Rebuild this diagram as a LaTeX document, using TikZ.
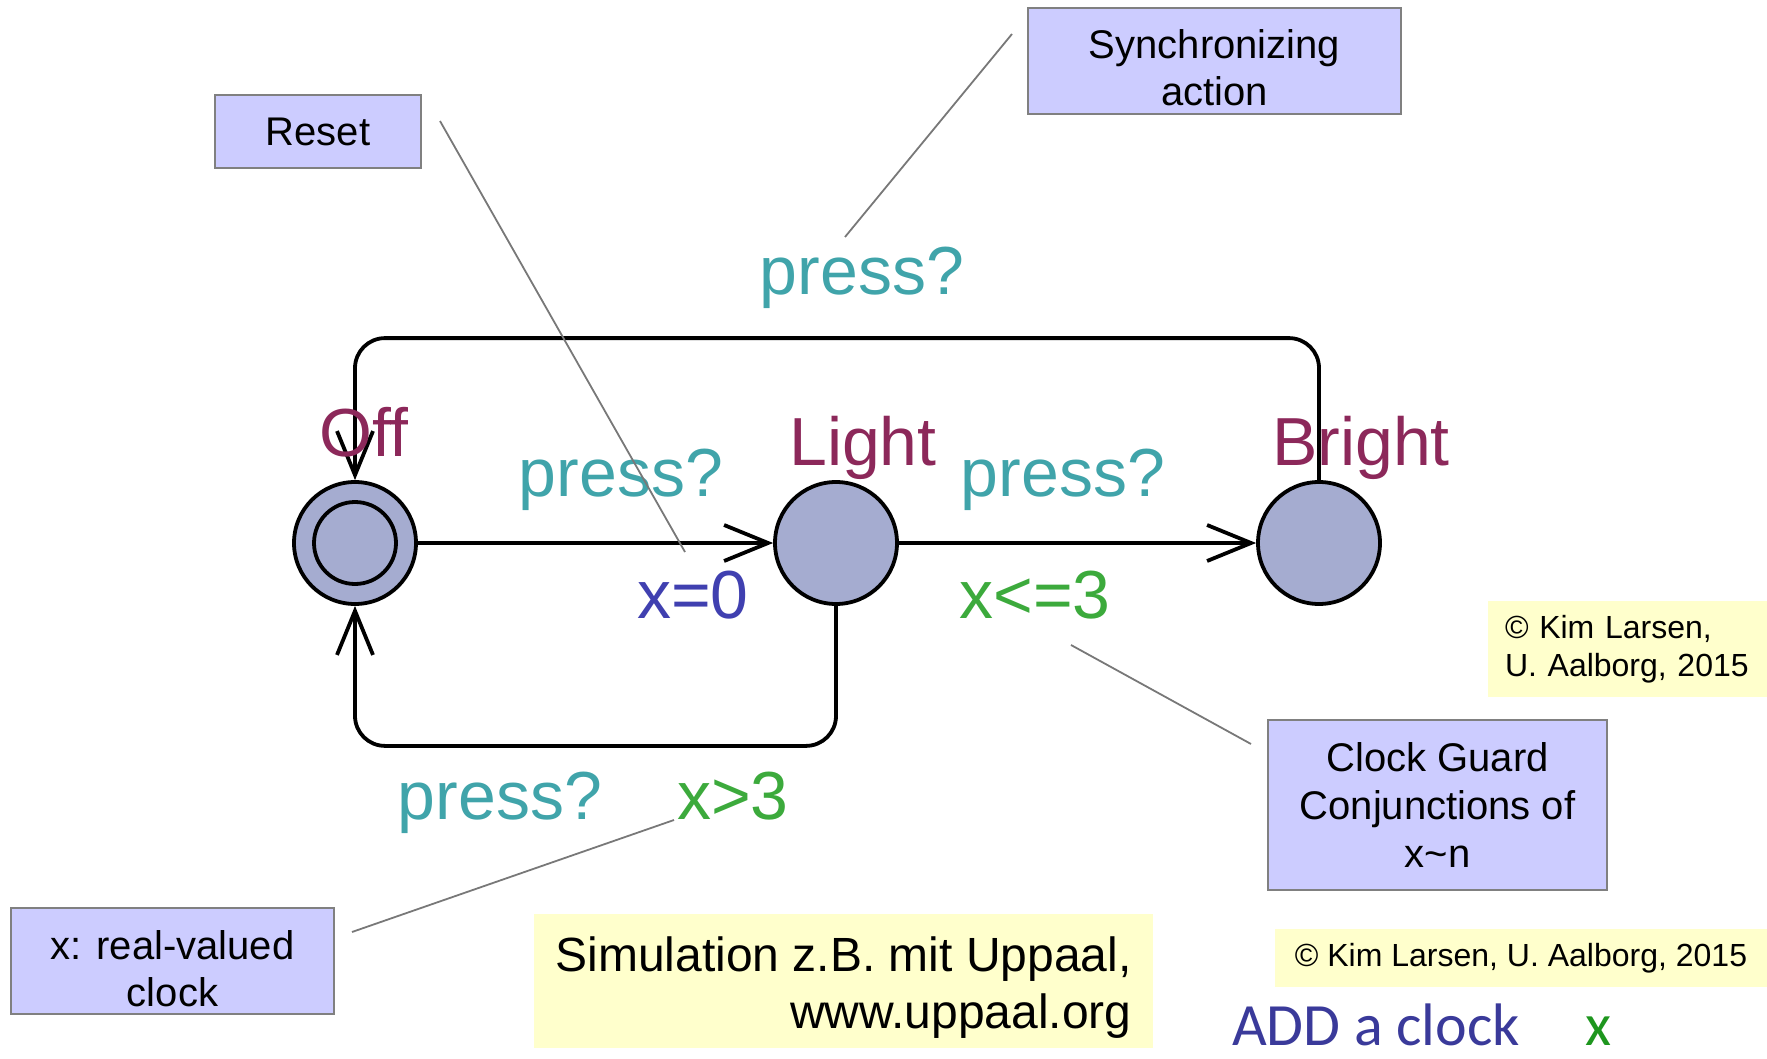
\documentclass[tikz,border=0pt]{standalone}
\usepackage{fontspec}
\setmainfont{Liberation Sans}
\newfontfamily\calib{Carlito}
\usetikzlibrary{arrows.meta}
\definecolor{teal2}{RGB}{64,164,170}
\definecolor{maroon2}{RGB}{140,40,90}
\definecolor{blue2}{RGB}{64,64,176}
\definecolor{green2}{RGB}{60,170,60}
\definecolor{statefill}{RGB}{165,172,208}
\definecolor{notefill}{RGB}{204,204,255}
\definecolor{notedraw}{RGB}{128,128,128}
\definecolor{yel}{RGB}{255,255,204}
\definecolor{addblue}{RGB}{58,58,154}
\definecolor{addgreen}{RGB}{30,150,30}
\definecolor{ptr}{RGB}{120,120,120}
\begin{document}
\begin{tikzpicture}[x=1pt,y=-1pt,
  state/.style={circle,draw=black,line width=3.8pt,fill=statefill,minimum size=122pt,inner sep=0pt},
  edge/.style={line width=3.8pt,rounded corners=30pt,-{Straight Barb[length=44pt,width=36pt,line width=3.8pt]}},
  lbl/.style={font=\fontsize{68}{68}\selectfont,anchor=base,inner sep=0pt},
  notebox/.style={rectangle,fill=notefill,draw=notedraw,line width=1.5pt,align=center,inner sep=0pt,font=\fontsize{40}{47}\selectfont},
  yelbox/.style={rectangle,fill=yel,draw=none,inner sep=0pt},
  pointer/.style={draw=ptr,line width=1.8pt}
]
\useasboundingbox (0,0) rectangle (1767,1059);

% states
\node[state] (off) at (355,543) {};
\node[circle,draw=black,line width=3.8pt,minimum size=82pt,inner sep=0pt] (offin) at (355,543) {};
\node[state] (light) at (836,543) {};
\node[state] (bright) at (1319,543) {};

% edges
\draw[edge] (off.east) -- (light.west);
\draw[edge] (light.east) -- (bright.west);
\draw[edge] (bright.north) -- ++(0,-142) -| (off.north);
\draw[edge] (light.south) -- ++(0,140) -| (off.south);

% labels
\node[lbl,text=maroon2] (loff) at (364,456) {Off};
\node[lbl,text=maroon2] (llight) at (863,465) {Light};
\node[lbl,text=maroon2] (lbright) at (1361,465) {Bright};
\node[lbl,text=teal2] (p1) at (621,496) {press?};
\node[lbl,text=teal2] (p2) at (1063,496) {press?};
\node[lbl,text=teal2] (p3) at (862,295) {press?};
\node[lbl,text=blue2] (a1) at (693,618) {x=0};
\node[lbl,text=green2] (g1) at (1035,618) {x<=3};
\node[lbl,text=teal2] (p4) at (500,819) {press?};
\node[lbl,text=green2] (g2) at (733,819) {x>3};

% annotation boxes
\node[notebox,minimum width=206pt,minimum height=73pt] (reset) at (318,131.5) {Reset};
\node[notebox,minimum width=373pt,minimum height=106pt] (sync) at (1214.5,61) {\rule{0pt}{43pt}Synchronizing\\action};
\node[notebox,minimum width=323pt,minimum height=106pt] (clock) at (172.5,961) {\rule{0pt}{45pt}x: real-valued\\clock};
\node[notebox,minimum width=339pt,minimum height=170pt,font=\fontsize{40}{48}\selectfont] (guard) at (1437.5,805) {Clock Guard\\Conjunctions of\\x\textasciitilde n};

% pointer lines
\coordinate (r1) at (440,121);
\coordinate (r2) at (685,552);
\draw[pointer] (r1) -- (r2);
\coordinate (s1) at (1012,34);
\coordinate (s2) at (845,237);
\draw[pointer] (s1) -- (s2);
\coordinate (c1) at (352,932);
\coordinate (c2) at (674,820);
\draw[pointer] (c1) -- (c2);
\coordinate (k1) at (1071,645);
\coordinate (k2) at (1251,744);
\draw[pointer] (k1) -- (k2);

% yellow notes
\node[yelbox,minimum width=279pt,minimum height=96pt,text width=245pt,inner xsep=17pt,align=left,font=\fontsize{32}{38}\selectfont] (copy1) at (1627.5,649) {© Kim Larsen,\\U. Aalborg, 2015};
\node[yelbox,minimum width=619pt,minimum height=134pt,align=right,font=\fontsize{48}{57}\selectfont] (sim) at (843.5,981) {\rule{0pt}{47pt}Simulation z.B. mit Uppaal,\\www.uppaal.org};
\node[yelbox,minimum width=492pt,minimum height=58pt,font=\fontsize{32}{38}\selectfont] (copy2) at (1521,958) {© Kim Larsen, U. Aalborg, 2015};

% ADD a clock
\node[anchor=base west,inner sep=0pt,text=addblue,font=\calib\fontsize{60}{60}\selectfont] (add) at (1232,1045) {ADD a clock};
\node[anchor=base,inner sep=0pt,text=addgreen,font=\calib\fontsize{60}{60}\selectfont] (addx) at (1598,1045) {x};
\end{tikzpicture}
\end{document}
